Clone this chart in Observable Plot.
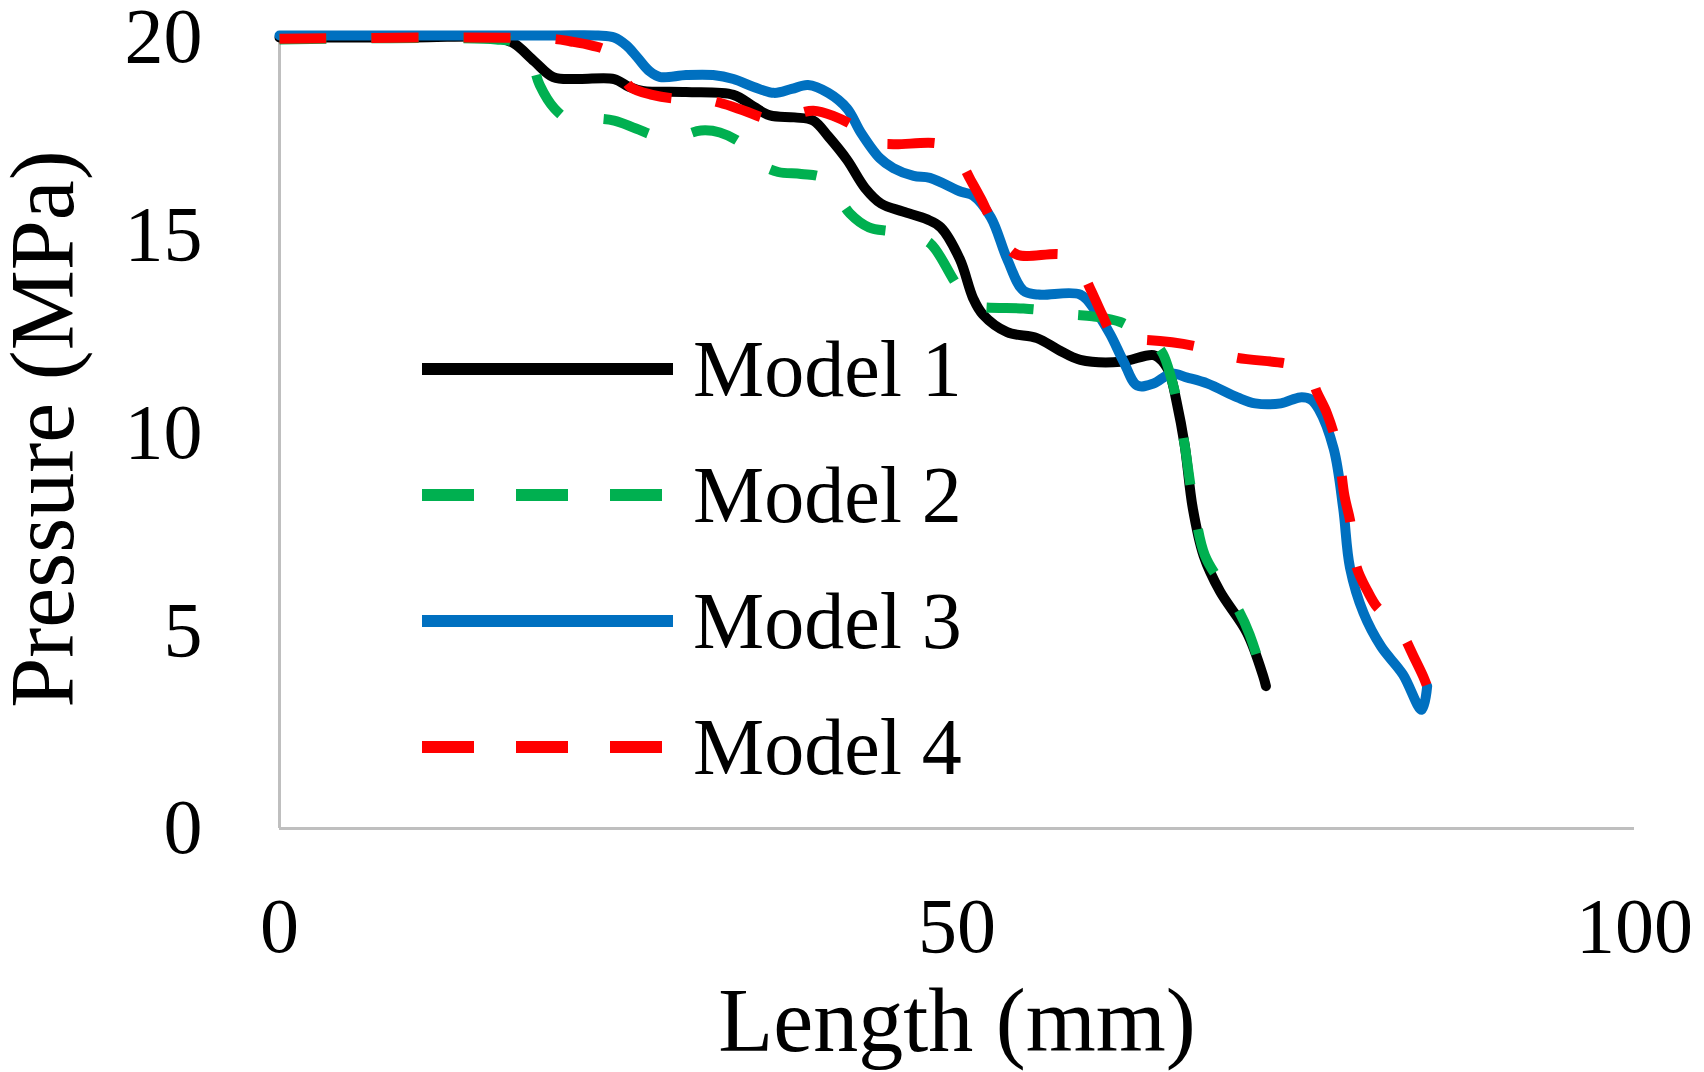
<!DOCTYPE html>
<html>
<head>
<meta charset="utf-8">
<script src="https://cdn.jsdelivr.net/npm/d3@7"></script>
<script src="https://cdn.jsdelivr.net/npm/@observablehq/plot@0.6"></script>
<style>
  html, body { margin: 0; padding: 0; background: #fff; overflow: hidden; }
  #wrap { position: relative; width: 1704px; height: 1072px; }
  #legend { position: absolute; left: 0; top: 0; font-family: "Liberation Serif", "Times New Roman", serif; }
  .row { position: absolute; display: flex; align-items: center; }
  .row span { font-size: 80px; line-height: 1; color: #000; margin-left: 20px; white-space: nowrap; }
</style>
</head>
<body>
<div id="wrap"><div id="legend"></div></div>
<script>
// Series (x = Length in mm, y = Pressure in MPa)
const model1 = [
  [0,20],[10,20],[16,20],[17.3,19.85],[18.8,19.4],[20.2,19.0],[22,18.95],[24.7,18.95],[25.8,18.75],[26.8,18.65],
  [30,18.62],[33.5,18.55],[35,18.25],[36.2,18.03],[38,17.98],[39.4,17.9],[40.5,17.5],[41.9,16.9],[43.2,16.2],
  [44.4,15.8],[46,15.6],[47.8,15.4],[48.8,15.2],[50.2,14.4],[51.2,13.4],[51.9,13.0],[53.7,12.55],[55.9,12.4],
  [57.5,12.1],[59.1,11.85],[62.1,11.8],[64.5,11.97],[65.2,11.8],[65.7,11.5],[66.2,10.8],[66.8,9.7],[67.4,8.1],
  [68.2,6.9],[69.4,6.0],[71.4,4.95],[72.6,3.85],[72.8,3.6]
];
const model2 = [
  [0,19.95],[16,19.95],[17.5,19.85],[18.5,19.5],[19.2,18.8],[20.3,18.2],[21.5,17.9],[23,17.95],[24.7,17.9],
  [26.3,17.7],[27.9,17.5],[29.5,17.5],[31.1,17.65],[32.5,17.6],[34.2,17.3],[35.5,16.8],[36.8,16.6],[38.5,16.55],
  [40.1,16.45],[41.2,16.0],[42.1,15.55],[43.5,15.2],[45.1,15.1],[46.5,15.0],[48,14.8],[49.7,13.9],[50.8,13.3],
  [51.5,13.2],[54.9,13.15],[56.5,13.1],[58.4,13.0],[60,12.95],[62.1,12.8],[63.5,12.5],[64.5,12.3],[65.2,12.0],
  [65.8,11.4],[66.3,10.7],[66.8,9.7],[67.5,8.1],[68.3,6.9],[69.5,6.2],[70.8,5.5],[71.6,4.9],[72.5,3.9],[72.8,3.3]
];
const model3 = [
  [0,20.05],[20,20.05],[23.5,20.05],[24.7,20.0],[25.6,19.8],[26.4,19.5],[27.3,19.15],[28.1,19.0],[30,19.05],
  [32,19.05],[33.5,18.95],[35,18.75],[36.5,18.6],[37.8,18.7],[39,18.8],[40.5,18.6],[41.9,18.2],[42.9,17.6],
  [44.3,16.95],[45.3,16.7],[46.8,16.5],[48,16.45],[50.3,16.1],[51.2,16.0],[52.5,15.45],[53.7,14.4],[54.9,13.6],
  [56,13.5],[59.1,13.5],[60.2,13.1],[61.3,12.5],[62.3,11.8],[63.3,11.2],[64.5,11.25],[65.8,11.5],[67,11.4],
  [68.5,11.25],[70.7,10.9],[72,10.75],[73.9,10.75],[75.3,10.9],[76.1,10.85],[76.7,10.6],[77.8,9.6],[78.5,8.1],
  [79,6.6],[80,5.45],[81.3,4.6],[82.9,3.9],[84.3,3.0],[84.7,3.6]
];
const model4 = [
  [0,19.97],[20,19.97],[21.5,19.9],[23,19.8],[24.2,19.65],[25.2,19.1],[25.9,18.75],[27.5,18.55],[29.4,18.45],
  [31,18.45],[32.5,18.35],[34.3,18.15],[36,17.95],[37.5,18.0],[39.4,18.15],[41,18.0],[42.7,17.7],[44,17.35],
  [45.3,17.3],[48.8,17.3],[50,17.0],[51,16.4],[51.8,15.9],[52.5,15.4],[53.5,14.8],[54.5,14.5],[57.9,14.5],
  [59,14.2],[59.9,13.6],[60.7,13.0],[61.5,12.5],[62.8,12.35],[64,12.35],[67.5,12.2],[69,12.05],[70.7,11.9],
  [74.4,11.75],[75.8,11.6],[76.6,11.0],[77.3,10.5],[78.1,9.6],[78.6,8.4],[79,7.8],[79.5,6.6],[80.3,6.0],
  [81,5.6],[82,5.3],[82.9,4.9],[83.7,4.35],[84.4,3.85],[84.8,3.5]
];
const seriesNames = ["Model 1", "Model 2", "Model 3", "Model 4"];
const seriesColors = ["#000000", "#00b050", "#0070c0", "#ff0000"];
const seriesDashed = [false, true, false, true];
const xTicks = [0, 50, 100];
const yTicks = [0, 5, 10, 15, 20];
const xLabel = "Length (mm)";
const yLabel = "Pressure (MPa)";

const allSeries = [model1, model2, model3, model4];
const drawOrder = [0, 2, 1, 3];

const lineMarks = drawOrder.map(i => Plot.line(allSeries[i], {
  x: d => d[0], y: d => d[1],
  stroke: seriesColors[i], strokeWidth: 10,
  strokeDasharray: seriesDashed[i] ? "47,45" : null,
  strokeLinecap: seriesDashed[i] ? "butt" : "round",
  strokeLinejoin: "round",
  curve: "catmull-rom"
}));

const chart = Plot.plot({
  width: 1704, height: 1072,
  marginLeft: 279, marginRight: 70, marginTop: 37, marginBottom: 244,
  style: { fontFamily: "'Liberation Serif', 'Times New Roman', serif", color: "#000", background: "#fff" },
  x: { domain: [0, 100] },
  y: { domain: [0, 20] },
  marks: [
    Plot.ruleX([0], { stroke: "#bfbfbf", strokeWidth: 3 }),
    Plot.ruleY([0], { stroke: "#bfbfbf", strokeWidth: 3 }),
    Plot.axisX({ ticks: xTicks, tickSize: 0, tickPadding: 68, fontSize: 78, label: null, tickFormat: d => String(d) }),
    Plot.axisY({ ticks: yTicks, tickSize: 0, tickPadding: 77, fontSize: 78, label: null, tickFormat: d => String(d) }),
    Plot.text([xLabel], { frameAnchor: "bottom", dy: 194, fontSize: 90, lineAnchor: "middle", textAnchor: "middle", text: d => d }),
    Plot.text([yLabel], { frameAnchor: "left", dx: -235, dy: -4, rotate: -90, fontSize: 90, lineAnchor: "middle", textAnchor: "middle", text: d => d }),
    ...lineMarks
  ]
});
const wrap = document.getElementById("wrap");
wrap.insertBefore(chart, wrap.firstChild);

// Legend overlay
const legend = document.getElementById("legend");
const rowTops = [369, 495, 621, 747];
seriesNames.forEach((name, i) => {
  const row = document.createElement("div");
  row.className = "row";
  row.style.left = "422px";
  row.style.top = (rowTops[i] - 40) + "px";
  row.style.height = "80px";
  const ns = "http://www.w3.org/2000/svg";
  const sw = document.createElementNS(ns, "svg");
  sw.setAttribute("width", "251"); sw.setAttribute("height", "20");
  const ln = document.createElementNS(ns, "line");
  ln.setAttribute("x1", "0"); ln.setAttribute("x2", "251");
  ln.setAttribute("y1", "10"); ln.setAttribute("y2", "10");
  ln.setAttribute("stroke", seriesColors[i]);
  ln.setAttribute("stroke-width", "12");
  if (seriesDashed[i]) ln.setAttribute("stroke-dasharray", "52,42");
  sw.appendChild(ln);
  row.appendChild(sw);
  const sp = document.createElement("span");
  sp.textContent = name;
  row.appendChild(sp);
  legend.appendChild(row);
});
</script>
</body>
</html>
